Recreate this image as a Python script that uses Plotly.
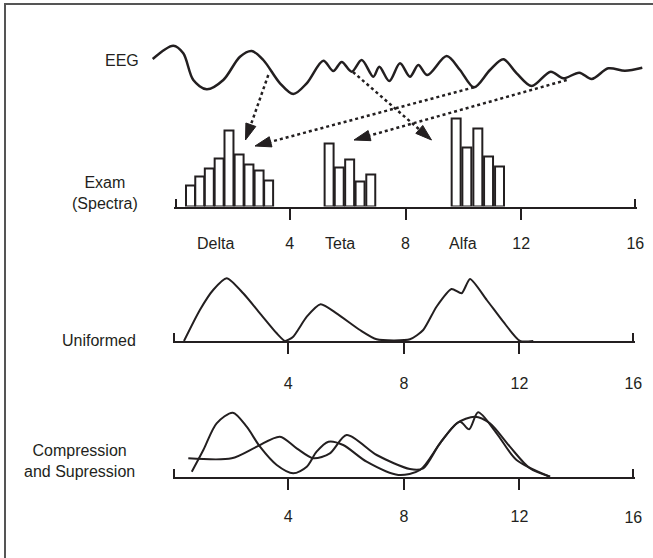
import plotly.graph_objects as go

INK = "#231f20"
FONT = "Liberation Sans, Arial, sans-serif"
W, H = 653, 558

# ---------------- data ----------------
# EEG sketch (time in px-space, amplitude in px-space, y downward)
eeg_t = [152.7, 173.3, 183.3, 193.3, 206.7, 223.3, 240.0, 251.7, 263.3, 280.0,
         293.3, 306.7, 323.3, 333.3, 341.7, 351.7, 361.7, 373.3, 379.3, 389.3,
         400.0, 410.0, 418.3, 427.3, 446.7, 460.0, 474.0, 490.0, 503.3, 516.7,
         531.7, 550.7, 563.3, 579.3, 591.7, 608.3, 625.0, 642.3]
eeg_v = [59.0, 45.7, 53.3, 80.0, 89.3, 80.0, 56.7, 51.0, 60.0, 83.3,
         94.0, 83.3, 60.7, 71.0, 62.0, 71.7, 60.0, 76.7, 66.7, 81.0,
         63.3, 76.7, 65.0, 75.0, 56.0, 70.0, 87.3, 70.0, 59.3, 73.3,
         86.0, 71.7, 78.3, 72.7, 79.0, 68.3, 70.7, 67.7]

# dotted arrows from EEG segments to spectra
arrow_from_x = [268.3, 474.0, 353.0, 566.7]
arrow_from_y = [75.0, 87.3, 72.0, 80.0]
arrow_to_x = [245.5, 255.0, 431.5, 354.0]
arrow_to_y = [140.0, 146.0, 140.0, 140.0]

# Exam spectra (frequency, power)
delta_f = [0.57, 0.89, 1.22, 1.56, 1.90, 2.25, 2.59, 2.94, 3.27]
delta_p = [21, 30, 38, 48, 76, 52, 42, 36, 26]
teta_f = [5.36, 5.71, 6.07, 6.43, 6.80]
teta_p = [63, 39, 47, 25, 32]
alfa_f = [9.75, 10.12, 10.50, 10.87, 11.25]
alfa_p = [88, 59, 78, 50, 40]

band_names = ["Delta", "Teta", "Alfa"]
band_pos = [1.42, 5.74, 9.99]

axis_ticks = [4, 8, 12]
end_ticks = [0, 16]
end_labels = ["", "16"]

# Uniformed curve
uni_f = [0.39, 0.94, 1.40, 1.87, 2.44, 3.02, 3.60, 3.89, 4.17, 4.64, 5.12, 5.67,
         6.48, 7.06, 8.21, 8.67, 9.13, 9.65, 10.00, 10.29, 10.87, 11.44, 12.02, 12.48]
uni_p = [0, 31, 51, 62.7, 47.7, 27.7, 7.7, 0, 4.3, 24.3, 36.7, 27.7,
         11, 1.7, 1.7, 11, 34.3, 52, 47.7, 62, 41, 19.3, 0, 0]

# Compression and Supression curves
cs1_f = [0.66, 1.06, 1.52, 2.08, 2.56, 3.02, 3.60, 4.17, 4.64, 4.98, 5.39, 5.90,
         6.71, 7.81, 8.56, 9.25, 9.83, 10.46, 10.98, 11.67, 12.36, 13.06]
cs1_p = [5.6, 27.3, 54, 64.6, 50.6, 30.6, 12.3, 4, 10.6, 25.6, 35.6, 32.3,
         15.6, 2.3, 7.3, 34, 54, 60.6, 54, 30.6, 9, 0.6]
cs2_f = [0.54, 2.04, 2.91, 3.71, 4.29, 4.87, 5.44, 6.02, 7.06, 8.21, 8.67, 9.25,
         9.94, 10.26, 10.57, 11.21, 11.90, 13.06]
cs2_p = [19, 19, 30.6, 40.6, 29, 19, 24, 42.3, 22.3, 8.3, 9, 34,
         55.6, 48, 65, 44, 17.3, 0.6]

# ---------------- layout helpers ----------------
def yd(base_px, height_px=100):
    return [1 - base_px / H, 1 - (base_px - height_px) / H]

row1_x = [174 / W, 637 / W]
row_x = [172.7 / W, 635 / W]
row1_y = yd(206.5)
row2_y = yd(341.0)
row3_y = yd(477.3)

fig = go.Figure()

# EEG
fig.add_trace(go.Scatter(x=eeg_t, y=eeg_v, mode="lines", xaxis="x7", yaxis="y4",
                         line=dict(color=INK, width=2.5, shape="spline", smoothing=0.9),
                         hoverinfo="skip"))
# arrows
for i in range(len(arrow_from_x)):
    fig.add_trace(go.Scatter(
        x=[arrow_from_x[i], arrow_to_x[i]], y=[arrow_from_y[i], arrow_to_y[i]],
        mode="lines+markers", xaxis="x7", yaxis="y4",
        line=dict(color=INK, width=2.5, dash="3px,3px"),
        marker=dict(symbol="arrow", angleref="previous", size=[0, 17], color=INK,
                    opacity=1, line=dict(width=1, color=INK)),
        hoverinfo="skip"))

# spectra bars
for f, p in [(delta_f, delta_p), (teta_f, teta_p), (alfa_f, alfa_p)]:
    fig.add_trace(go.Bar(x=f, y=p, width=0.31, xaxis="x", yaxis="y",
                         marker=dict(color="white", line=dict(color=INK, width=2)),
                         hoverinfo="skip"))

# Uniformed
fig.add_trace(go.Scatter(x=uni_f, y=uni_p, mode="lines", xaxis="x3", yaxis="y2",
                         line=dict(color=INK, width=2, shape="spline", smoothing=0.6),
                         hoverinfo="skip"))
# Compression and Supression
for f, p in [(cs1_f, cs1_p), (cs2_f, cs2_p)]:
    fig.add_trace(go.Scatter(x=f, y=p, mode="lines", xaxis="x5", yaxis="y3",
                             line=dict(color=INK, width=2, shape="spline", smoothing=0.8),
                             hoverinfo="skip"))

# invisible anchors so the overlay axes (end ticks) get drawn
for xa, ya in [("x2", "y"), ("x4", "y2"), ("x6", "y3")]:
    fig.add_trace(go.Scatter(x=end_ticks, y=[0, 0], mode="markers", xaxis=xa, yaxis=ya,
                             marker=dict(opacity=0, size=1), hoverinfo="skip"))

tickfont = dict(family=FONT, size=16, color=INK)

def main_x(domain, anchor, standoff):
    return dict(domain=domain, anchor=anchor, range=[0, 16], showgrid=False, zeroline=False,
                showline=True, linecolor=INK, linewidth=2, automargin=False,
                tickmode="array", tickvals=axis_ticks, ticks="outside", ticklen=11,
                tickwidth=2, tickcolor=INK, tickfont=tickfont, ticklabelstandoff=standoff,
                fixedrange=True)

def end_x(base, anchor, standoff):
    # range padded a hair so the end ticks are not clipped away
    return dict(overlaying=base, anchor=anchor, range=[-0.06, 16.06], showgrid=False,
                zeroline=False, showline=False, automargin=False,
                tickmode="array", tickvals=end_ticks, ticktext=end_labels,
                ticks="inside", ticklen=8, tickwidth=2, tickcolor=INK, tickfont=tickfont,
                ticklabelstandoff=standoff, fixedrange=True)

def hid_y(domain, anchor):
    return dict(domain=domain, anchor=anchor, range=[0, 100], visible=False,
                automargin=False, fixedrange=True)

annotations = []
for name, pos in zip(band_names, band_pos):
    annotations.append(dict(x=pos, y=1 - 243 / H, xref="x", yref="paper", text=name,
                            showarrow=False, font=tickfont, xanchor="center", yanchor="middle"))

side_labels = [
    ("EEG", 122, 61),
    ("Exam<br>(Spectra)", 105, 193),
    ("Uniformed", 99, 340),
    ("Compression<br>and Supression", 79, 461),
]
for txt, px, py in side_labels:
    annotations.append(dict(x=px / W, y=1 - py / H, xref="paper", yref="paper", text=txt,
                            showarrow=False, font=tickfont, xanchor="center", yanchor="middle",
                            align="center"))

fig.update_layout(
    width=W, height=H, margin=dict(l=0, r=0, t=0, b=0, autoexpand=False),
    paper_bgcolor="white", plot_bgcolor="rgba(0,0,0,0)",
    showlegend=False, barmode="overlay",
    font=dict(family=FONT, color=INK),
    xaxis=main_x(row1_x, "y", 10),
    xaxis2=end_x("x", "y", 25),
    yaxis=hid_y(row1_y, "x"),
    xaxis3=main_x(row_x, "y2", 16),
    xaxis4=end_x("x3", "y2", 31),
    yaxis2=hid_y(row2_y, "x3"),
    xaxis5=main_x(row_x, "y3", 12),
    xaxis6=end_x("x5", "y3", 29),
    yaxis3=hid_y(row3_y, "x5"),
    xaxis7=dict(domain=[0, 1], anchor="y4", range=[0, W], visible=False,
                automargin=False, fixedrange=True),
    yaxis4=dict(domain=[0, 1], anchor="x7", range=[H, 0], visible=False,
                automargin=False, fixedrange=True),
    annotations=annotations,
    shapes=[dict(type="path", xref="paper", yref="paper",
                 path=f"M {5/W},0 L {5/W},{1-4/H} L 1,{1-4/H}",
                 line=dict(color="#555555", width=2))],
)

fig.write_html("out.html", config={"displayModeBar": False})
